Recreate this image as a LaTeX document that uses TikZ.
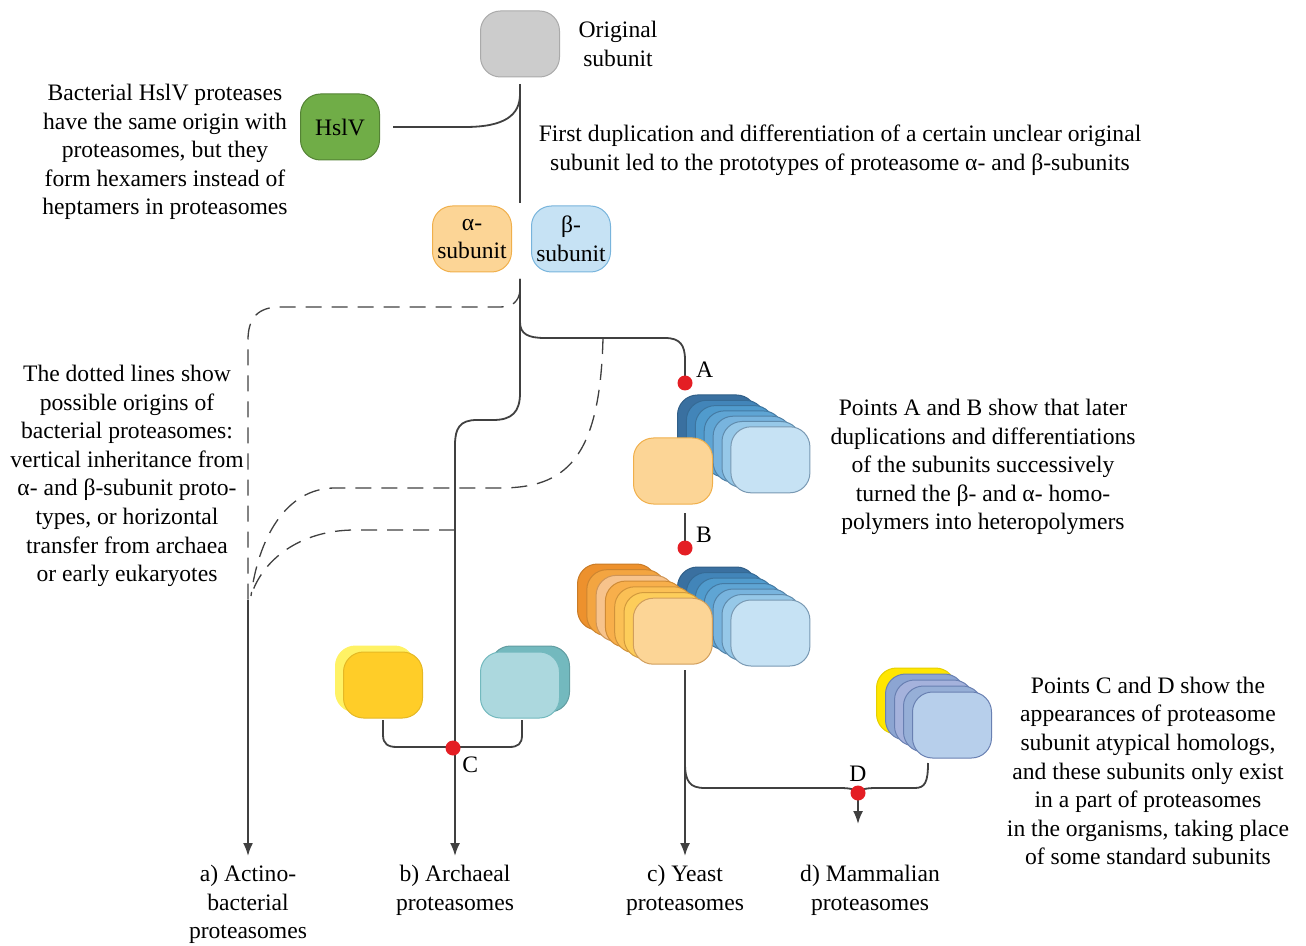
\documentclass[tikz,border=0pt]{standalone}
\usepackage{fontspec}
\setmainfont{Liberation Serif}
\usetikzlibrary{arrows.meta,positioning}

\definecolor{origgray}{RGB}{204,204,204}
\definecolor{origedge}{RGB}{170,170,170}
\definecolor{hslfill}{RGB}{112,173,71}
\definecolor{hsledge}{RGB}{84,130,53}
\definecolor{alphafill}{RGB}{252,213,150}
\definecolor{alphaedge}{RGB}{240,175,75}
\definecolor{betafill}{RGB}{198,226,244}
\definecolor{betaedge}{RGB}{120,180,220}
\definecolor{linegray}{RGB}{64,64,64}
\definecolor{pointred}{RGB}{228,30,36}
% blue stacks, back to front
\definecolor{bl0}{RGB}{58,112,160}
\definecolor{bl1}{RGB}{66,133,185}
\definecolor{bl2}{RGB}{80,155,205}
\definecolor{bl3}{RGB}{95,165,212}
\definecolor{bl4}{RGB}{120,180,222}
\definecolor{bl5}{RGB}{150,200,232}
\definecolor{bl6}{RGB}{198,226,244}
% orange stack, back to front
\definecolor{or0}{RGB}{237,145,45}
\definecolor{or1}{RGB}{243,165,65}
\definecolor{or2}{RGB}{247,195,140}
\definecolor{or3}{RGB}{248,175,75}
\definecolor{or4}{RGB}{251,192,85}
\definecolor{or5}{RGB}{253,205,90}
\definecolor{or6}{RGB}{252,213,150}
% mammalian stack
\definecolor{ye0}{RGB}{255,230,0}
\definecolor{pu1}{RGB}{140,165,210}
\definecolor{pu2}{RGB}{165,178,220}
\definecolor{pu3}{RGB}{150,175,215}
\definecolor{pu4}{RGB}{183,207,235}
\definecolor{puedge}{RGB}{105,128,178}
% archaeal pair
\definecolor{yelpale}{RGB}{255,242,100}
\definecolor{yelgold}{RGB}{255,205,40}
\definecolor{tealpale}{RGB}{172,216,222}
\definecolor{tealdark}{RGB}{115,185,190}

\tikzset{
  sub/.style={draw, rounded corners=10pt, minimum width=39.5pt, minimum height=33pt,
    inner sep=0pt, line width=0.5pt, align=center},
  txt/.style={align=center},
  link/.style={draw=linegray, line width=0.9pt},
  maybe/.style={draw=linegray, line width=0.65pt, dash pattern=on 8pt off 5pt},
  hit/.style={circle, fill=pointred, inner sep=0pt, minimum size=7.5pt},
}

\begin{document}
\begin{tikzpicture}[x=0.5pt,y=-0.5pt, font=\fontsize{11.8}{14.3}\selectfont,
  >={Latex[length=6.5pt,width=5pt]}]
\useasboundingbox (0,0) rectangle (1306,946);

% original subunit, HslV and the two prototypes
\node[sub, fill=origgray, draw=origedge] (orig) at (520,44) {};
\node[txt] (origtxt) at (618,44) {Original\\subunit};
\node[sub, fill=hslfill, draw=hsledge] (hslv) at (340,127) {HslV};
\node[txt] (hslvtxt) at (165,152) {Bacterial HslV proteases\\have the same origin with\\proteasomes, but they\\form hexamers instead of\\heptamers in proteasomes};
\node[txt] (duptxt) at (840,150) {First duplication and differentiation of a certain unclear original\\subunit led to the prototypes of proteasome α- and β-subunits};
\node[sub, fill=alphafill, draw=alphaedge] (alpha) at (472,239) {α-\\subunit};
\node[sub, fill=betafill, draw=betaedge] (beta) at (571,239) {β-\\subunit};

% stacks
\foreach \c [count=\i from 0] in {bl0,bl1,bl2,bl3,bl4,bl5,bl6}
  \node[sub, fill=\c, draw=\c!60!bl0!85!black] (bA\i) at ({717+\i*8.9},{428+\i*5.3}) {};
\node[sub, fill=alphafill, draw=alphaedge] (oA) at (673,471) {};
\foreach \c [count=\i from 0] in {bl0,bl1,bl2,bl3,bl4,bl5,bl6}
  \node[sub, fill=\c, draw=\c!60!bl0!85!black] (bB\i) at ({717+\i*8.9},{600+\i*5.5}) {};
\foreach \c [count=\i from 0] in {or0,or1,or2,or3,or4,or5,or6}
  \node[sub, fill=\c, draw=\c!60!or0!85!black] (oB\i) at ({617+\i*9.3},{597+\i*5.7}) {};
\node[sub, fill=ye0, draw=ye0!90!black] (dS0) at (916,701) {};
\foreach \c [count=\i from 1] in {pu1,pu2,pu3,pu4}
  \node[sub, fill=\c, draw=puedge] (dS\i) at ({916+\i*9},{701+\i*6}) {};
\node[sub, fill=yelpale, draw=yelpale] (yC0) at (375,679) {};
\node[sub, fill=yelgold, draw=yelgold!90!black] (yC1) at (383,685) {};
\node[sub, fill=tealdark, draw=tealdark!85!black] (tC0) at (530,679) {};
\node[sub, fill=tealpale, draw=tealdark] (tC1) at (520,685) {};

% texts
\node[txt] (abtxt) at (983,467) {Points A and B show that later\\duplications and differentiations\\of the subunits successively\\turned the β- and α- homo-\\polymers into heteropolymers};
\node[txt] (cdtxt) at (1148,771) {Points C and D show the\\appearances of proteasome\\subunit atypical homologs,\\and these subunits only exist\\in a part of proteasomes\\in the organisms, taking place\\of some standard subunits};
\node[txt] (dottxt) at (127,476) {The dotted lines show\\possible origins of\\bacterial proteasomes:\\vertical inheritance from\\α- and β-subunit proto-\\types, or horizontal\\transfer from archaea\\or early eukaryotes};
\node[txt, anchor=north] (la) at (248,858) {a) Actino-\\bacterial\\proteasomes};
\node[txt, anchor=north] (lb) at (455,858) {b) Archaeal\\proteasomes};
\node[txt, anchor=north] (lc) at (685,858) {c) Yeast\\proteasomes};
\node[txt, anchor=north] (ld) at (870,858) {d) Mammalian\\proteasomes};

% branch points
\coordinate (origfoot) at (520,84);
\coordinate (split) at (520,203);
\coordinate (hslvjoin) at (520,94);
\coordinate (fork) at (520,279);
\coordinate (dashend) at (248,600);
\coordinate (afoot) at (685,513);
\coordinate (yeastfoot) at (685,670);
\coordinate (A) at (685,383);
\coordinate (B) at (685,548);
\coordinate (C) at (453,748);
\coordinate (D) at (858,793);
\coordinate (tipa) at (248,856);
\coordinate (tipb) at (455,856);
\coordinate (tipc) at (685,856);
\coordinate (tipd) at (858,824);

% connectors
\draw[link] (origfoot) -- (split);
\draw[link] ([xshift=6.5pt]hslv.east) -- (465,127) .. controls (505,127) and (520,115) .. (hslvjoin);
\draw[link] (fork) -- (520,322) .. controls (520,334) and (528,338) .. (545,338) -- (665,338) .. controls (680,338) and (685,345) .. (685,360) -- (A);
\draw[link, ->] (fork) -- (520,393) .. controls (520,412) and (512,420) .. (493,420) -- (477,420) .. controls (460,420) and (455,428) .. (455,445) -- (tipb);
\draw[maybe] (520,290) .. controls (519,302) and (512,307) .. (500,307) -- (280,307) .. controls (258,307) and (248,318) .. (248,340) -- (dashend);
\draw[maybe] (603,338) .. controls (600,460) and (565,488) .. (500,488) -- (335,488) .. controls (285,488) and (258,540) .. (251,596);
\draw[maybe] (455,530) -- (355,530) .. controls (300,530) and (262,560) .. (251,596);
\draw[link, ->] (dashend) -- (tipa);
\draw[link] (afoot) -- (B);
\draw[link, ->] (yeastfoot) -- (tipc);
\draw[link] (383,720) -- (383,735) .. controls (383,744) and (388,747) .. (397,747) -- (509,747) .. controls (518,747) and (522,744) .. (522,735) -- (522,720);
\draw[link] (685,763) .. controls (685,782) and (690,788) .. (705,788) -- (840,788) .. controls (852,788) and (856,790) .. (D);
\draw[link] (D) .. controls (860,790) and (864,788) .. (876,788) -- (915,788) .. controls (925,788) and (928,782) .. (928,763);
\draw[link, ->] (D) -- (tipd);

% points
\foreach \p/\a in {A/15, B/15, C/-40, D/90}
  \node[hit, label={[txt, inner sep=1.5pt]\a:\p}] (dot\p) at (\p) {};
\end{tikzpicture}
\end{document}
